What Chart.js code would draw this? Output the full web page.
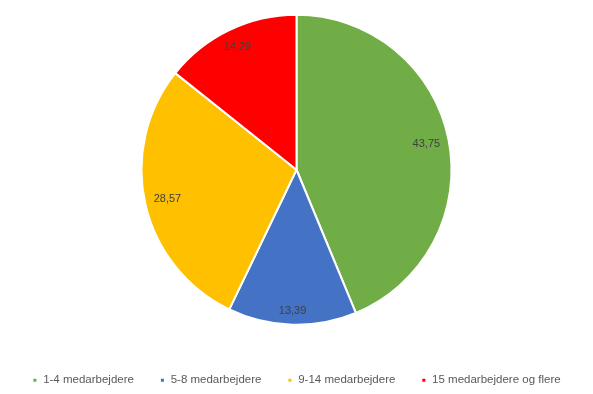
<!DOCTYPE html>
<html>
<head>
<meta charset="utf-8">
<script src="https://cdn.jsdelivr.net/npm/chart.js@4/dist/chart.umd.min.js"></script>
<style>
  html, body { margin: 0; padding: 0; background: #fff; overflow: hidden; }
  #wrap { width: 593px; height: 405px; margin-top: -9px; }
</style>
</head>
<body>
<div id="wrap"><canvas id="pieChart"></canvas></div>
<script>
var categories = ['1-4 medarbejdere', '5-8 medarbejdere', '9-14 medarbejdere', '15 medarbejdere og flere'];
var values = [43.75, 13.39, 28.57, 14.29];
var colors = ['#70AD47', '#4472C4', '#FFC000', '#FF0000'];

// value labels near the outer edge of each slice, like Excel's "inside end"
var sliceLabels = {
    id: 'sliceLabels',
    afterDatasetsDraw: function (chart) {
        var ctx = chart.ctx;
        var meta = chart.getDatasetMeta(0);
        ctx.save();
        ctx.font = '11px "Liberation Sans", Arial, sans-serif';
        ctx.fillStyle = '#404040';
        ctx.textAlign = 'center';
        ctx.textBaseline = 'middle';
        meta.data.forEach(function (arc, i) {
            var p = arc.getProps(['x', 'y', 'startAngle', 'endAngle', 'outerRadius'], true);
            var mid = (p.startAngle + p.endAngle) / 2;
            var text = values[i].toFixed(2).replace('.', ',');
            var w = ctx.measureText(text).width;
            var dx = Math.cos(mid), dy = Math.sin(mid);
            var half = Math.abs(dx) * w / 2 + Math.abs(dy) * 11 / 2;
            var r = p.outerRadius - half - 8;
            ctx.fillText(text, p.x + dx * r, p.y + dy * r);
        });
        ctx.restore();
    }
};

var ctx = document.getElementById('pieChart').getContext('2d');
var pieChart = new Chart(ctx, {
    type: 'pie',
    data: {
        labels: categories,
        datasets: [{
            data: values,
            backgroundColor: colors,
            borderColor: '#ffffff',
            borderWidth: 2,
            radius: 155
        }]
    },
    options: {
        responsive: true,
        maintainAspectRatio: false,
        animation: false,
        layout: { padding: 0 },
        plugins: {
            tooltip: { enabled: false },
            legend: {
                position: 'bottom',
                labels: {
                    usePointStyle: true,
                    pointStyle: 'rect',
                    boxWidth: 5,
                    boxHeight: 5,
                    padding: 26,
                    color: '#595959',
                    font: { family: '"Liberation Sans", Arial, sans-serif', size: 11.5 }
                }
            }
        }
    },
    plugins: [sliceLabels]
});
</script>
</body>
</html>
